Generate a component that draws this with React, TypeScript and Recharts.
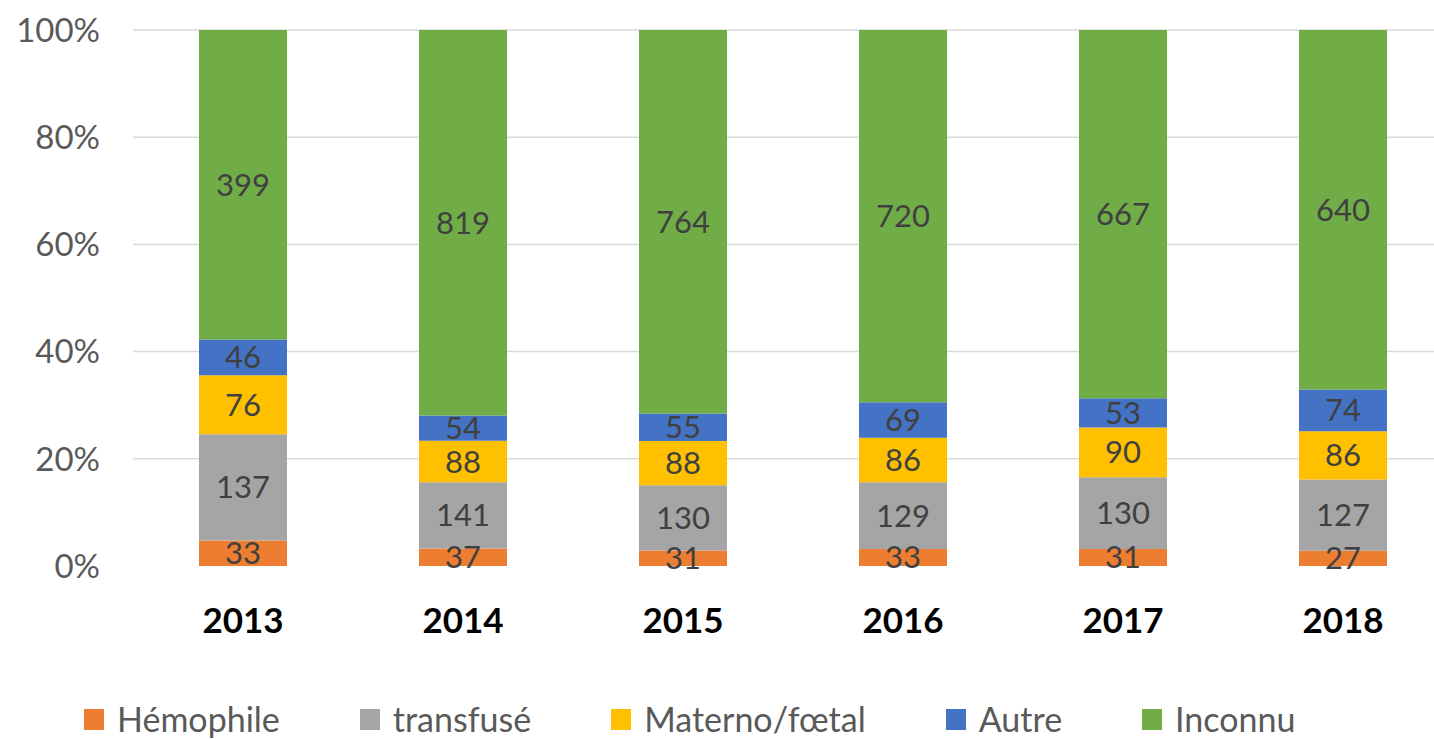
import React from 'react';
import { BarChart, Bar, XAxis, YAxis, CartesianGrid, LabelList } from 'recharts';

const years = ['2013', '2014', '2015', '2016', '2017', '2018'];
const hemophile = [33, 37, 31, 33, 31, 27];
const transfuse = [137, 141, 130, 129, 130, 127];
const materno = [76, 88, 88, 86, 90, 86];
const autre = [46, 54, 55, 69, 53, 74];
const inconnu = [399, 819, 764, 720, 667, 640];
const yTicks = [0, 0.2, 0.4, 0.6, 0.8, 1];

const series = [
  { key: 'hemophile', name: 'Hémophile', color: '#ED7D31' },
  { key: 'transfuse', name: 'transfusé', color: '#A5A5A5' },
  { key: 'materno', name: 'Materno/fœtal', color: '#FFC000' },
  { key: 'autre', name: 'Autre', color: '#4472C4' },
  { key: 'inconnu', name: 'Inconnu', color: '#70AD47' },
];

const data = years.map((year, i) => ({
  year,
  hemophile: hemophile[i],
  transfuse: transfuse[i],
  materno: materno[i],
  autre: autre[i],
  inconnu: inconnu[i],
}));

const FONT = 'Lato, "Noto Sans", sans-serif';

// grid lines at every tick except 0%
const gridLines = (props: any) => {
  const ticks = yTicks.filter(t => t > 0);
  const scale = props?.yAxis?.scale;
  if (typeof scale === 'function') return ticks.map(t => scale(t));
  if (scale && typeof scale.map === 'function') return ticks.map(t => scale.map(t));
  const { offset } = props;
  return ticks.map(t => offset.top + offset.height * (1 - t));
};

export default function App() {
  return (
    <div style={{ position: 'fixed', left: 0, top: 0, width: 1434, height: 739, overflow: 'hidden', background: '#fff', fontFamily: FONT }}>
      <BarChart
        width={1453}
        height={660}
        data={data}
        stackOffset="expand"
        barSize={88}
        margin={{ top: 30, right: 0, bottom: 0, left: 0 }}
      >
        <CartesianGrid vertical={false} stroke="#d9d9d9" strokeWidth={1.5} horizontalCoordinatesGenerator={gridLines} />
        <XAxis
          dataKey="year"
          height={94}
          axisLine={false}
          tickLine={false}
          tickSize={0}
          tickMargin={42}
          tick={{ fill: '#000', fontSize: 35, fontWeight: 700, fontFamily: FONT }}
        />
        <YAxis
          width={133}
          domain={[0, 1]}
          ticks={yTicks}
          axisLine={false}
          tickLine={false}
          tickSize={0}
          tickMargin={33}
          tickFormatter={(v: number) => `${Math.round(v * 100)}%`}
          tick={{ fill: '#595959', fontSize: 33, fontFamily: FONT }}
        />
        {series.map(s => (
          <Bar key={s.key} dataKey={s.key} name={s.name} stackId="a" fill={s.color} isAnimationActive={false}>
            <LabelList dataKey={s.key} position="center" fill="#404040" fontSize={31} fontFamily={FONT} />
          </Bar>
        ))}
      </BarChart>
      <div style={{ position: 'absolute', left: 84, top: 702, display: 'flex', alignItems: 'center', gap: 80 }}>
        {series.map(s => (
          <div key={s.key} style={{ display: 'flex', alignItems: 'center', gap: 13 }}>
            <div style={{ width: 20, height: 21, background: s.color }} />
            <span style={{ fontSize: 34, color: '#595959', lineHeight: '34px' }}>{s.name}</span>
          </div>
        ))}
      </div>
    </div>
  );
}
